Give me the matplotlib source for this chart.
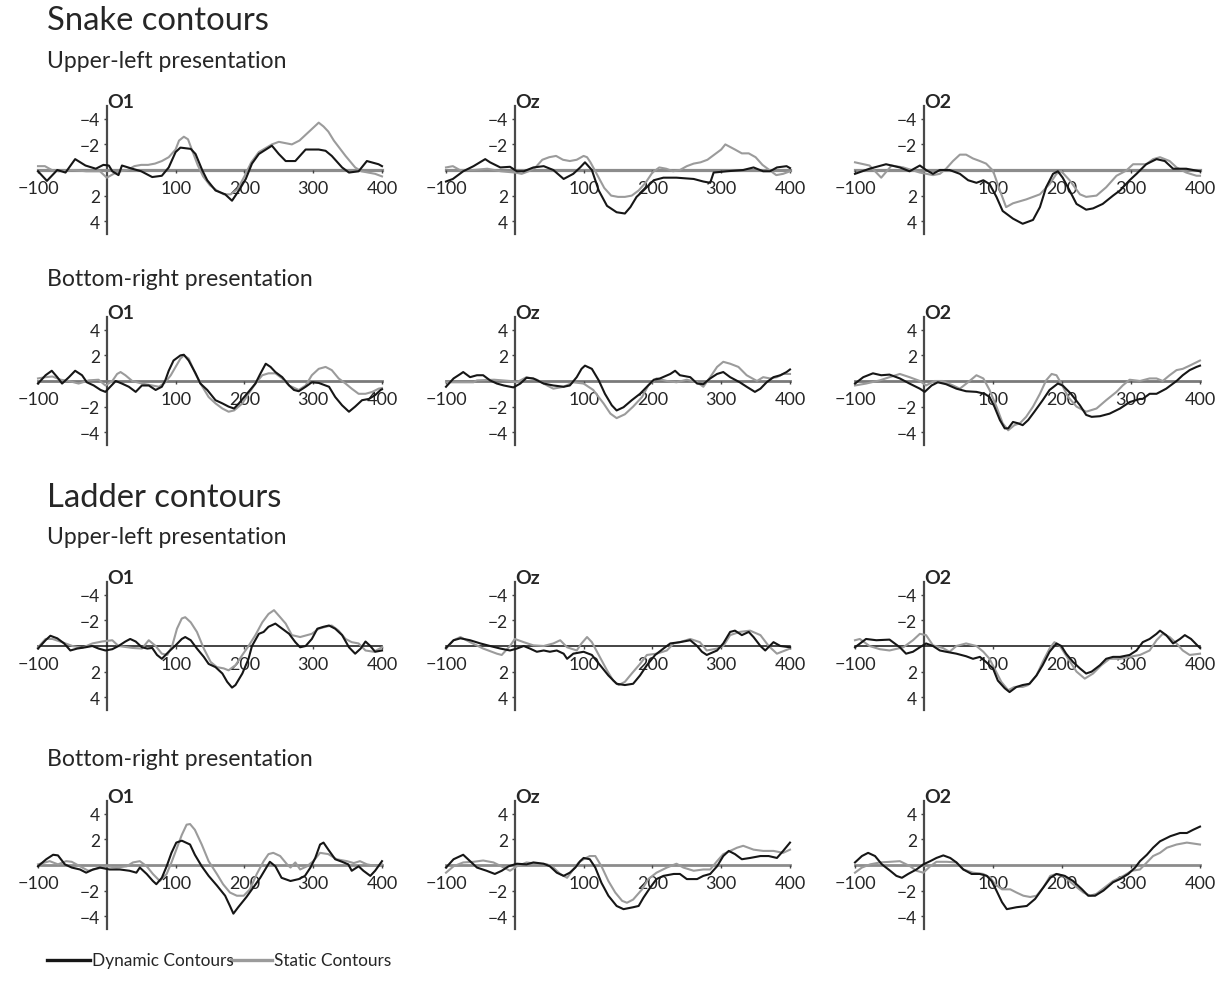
import matplotlib
matplotlib.use("Agg")
import matplotlib.pyplot as plt
from matplotlib.lines import Line2D

plt.rcParams["font.family"] = ["Lato", "DejaVu Sans"]

# ---------------------------------------------------------------------------
# Grand-average ERP waveforms (µV) at occipital electrodes, -100..400 ms.
# Each series is a list of (time in ms, amplitude in µV).
# ---------------------------------------------------------------------------
electrodes = ["O1", "Oz", "O2"]
section_titles = ["Snake contours", "Ladder contours"]
row_titles = ["Upper-left presentation", "Bottom-right presentation",
              "Upper-left presentation", "Bottom-right presentation"]
legend_labels = ["Dynamic Contours", "Static Contours"]
x_ticks = [-100, 100, 200, 300, 400]
y_ticks = [-4, -2, 2, 4]

# Snake contours, upper-left presentation
snake_ul_o1_dyn = [(-100,0.1),(-87,0.85),(-72,0.0),(-60,0.2),(-46,-0.85),(-31,-0.35),(-16,-0.1),(-5,-0.4),(3,-0.35),(8,0.1),(17,0.4),(22,-0.35),(37,-0.1),(50,0.1),(66,0.55),(80,0.45),(90,-0.2),(100,-1.4),(107,-1.75),(122,-1.65),(129,-1.25),(139,0.05),(146,0.8),(158,1.6),(172,1.9),(182,2.4),(192,1.6),(202,0.7),(211,-0.5),(221,-1.25),(240,-1.9),(250,-1.25),(260,-0.7),(274,-0.7),(289,-1.6),(308,-1.6),(318,-1.5),(327,-1.1),(342,-0.2),(352,0.2),(366,0.1),(378,-0.7),(395,-0.45),(400,-0.3)]
snake_ul_o1_sta = [(-100,-0.3),(-90,-0.3),(-80,0.0),(-70,0.1),(-50,0.0),(-30,0.1),(-10,0.1),(0,0.6),(10,0.3),(20,0.1),(30,0.0),(40,-0.3),(50,-0.4),(60,-0.4),(70,-0.5),(80,-0.7),(90,-1.0),(100,-1.6),(105,-2.3),(112,-2.6),(118,-2.4),(125,-1.4),(132,-0.4),(140,0.5),(150,1.2),(160,1.6),(170,1.9),(180,1.9),(190,1.5),(200,0.5),(210,-0.6),(221,-1.4),(240,-2.0),(250,-2.2),(269,-2.0),(280,-2.3),(290,-2.8),(300,-3.3),(308,-3.7),(315,-3.4),(322,-3.0),(330,-2.3),(347,-1.1),(361,-0.2),(370,0.1),(380,0.2),(390,0.3),(400,0.5)]
snake_ul_oz_dyn = [(-100,0.9),(-90,0.7),(-75,0.1),(-60,-0.3),(-43,-0.85),(-36,-0.6),(-21,-0.2),(-7,-0.25),(3,0.1),(13,0.1),(27,-0.2),(42,-0.3),(56,0.0),(71,0.7),(85,0.3),(95,-0.2),(102,-0.6),(112,0.0),(122,1.6),(134,2.8),(148,3.3),(160,3.4),(168,2.9),(177,2.1),(187,1.6),(202,0.8),(216,0.6),(235,0.6),(260,0.7),(274,0.9),(284,1.0),(289,0.2),(308,0.1),(332,0.0),(347,-0.2),(361,0.1),(371,0.1),(381,-0.2),(395,-0.3),(400,-0.15)]
snake_ul_oz_sta = [(-100,-0.2),(-90,-0.3),(-80,0.0),(-60,0.0),(-40,-0.1),(-20,0.1),(0,0.2),(10,0.3),(20,0.1),(30,-0.2),(40,-0.8),(50,-1.0),(60,-1.1),(70,-0.8),(80,-0.7),(90,-0.8),(100,-1.1),(105,-1.0),(110,-0.6),(120,0.4),(130,1.4),(140,2.0),(150,2.1),(160,2.1),(170,2.0),(180,1.6),(190,1.0),(200,0.2),(210,-0.2),(220,-0.1),(230,0.1),(240,0.0),(250,-0.3),(260,-0.5),(270,-0.6),(280,-0.8),(290,-1.2),(300,-1.6),(306,-2.0),(320,-1.6),(330,-1.3),(340,-1.3),(350,-1.0),(360,-0.4),(370,0.0),(380,0.4),(390,0.3),(400,0.1)]
snake_ul_o2_dyn = [(-100,0.3),(-79,-0.1),(-55,-0.45),(-35,-0.2),(-21,0.1),(-6,-0.35),(3,0.0),(13,0.3),(23,0.0),(37,0.0),(52,0.3),(64,0.8),(76,1.0),(86,0.8),(95,1.1),(105,2.1),(114,3.2),(129,3.8),(143,4.2),(158,3.9),(168,2.9),(177,1.35),(187,0.3),(194,0.1),(201,0.6),(211,1.6),(221,2.65),(235,3.1),(245,3.0),(259,2.65),(274,2.0),(284,1.6),(298,0.8),(308,0.3),(322,-0.45),(337,-0.85),(349,-0.7),(361,-0.1),(380,-0.1),(400,0.1)]
snake_ul_o2_sta = [(-100,-0.6),(-79,-0.35),(-62,0.6),(-47,-0.35),(-30,-0.2),(-6,0.2),(13,0.4),(23,0.3),(32,-0.1),(42,-0.7),(52,-1.2),(61,-1.2),(71,-0.9),(81,-0.7),(90,-0.5),(100,0.05),(110,1.6),(119,2.9),(129,2.6),(148,2.3),(168,1.9),(182,1.1),(192,0.3),(199,0.1),(211,0.8),(226,1.9),(235,2.1),(250,2.0),(264,1.35),(279,0.45),(293,0.05),(303,-0.45),(322,-0.45),(332,-0.85),(342,-1.0),(356,-0.7),(366,-0.2),(380,0.2),(395,0.45),(400,0.45)]

# Snake contours, bottom-right presentation
snake_br_o1_dyn = [(-100,-0.2),(-89,0.45),(-80,0.8),(-72,0.3),(-65,-0.2),(-55,0.3),(-46,0.8),(-36,0.45),(-29,-0.1),(-19,-0.35),(-9,-0.7),(-2,-0.85),(5,-0.45),(13,0.0),(22,-0.2),(32,-0.45),(42,-0.85),(51,-0.35),(61,-0.35),(71,-0.7),(80,-0.45),(85,0.05),(90,0.8),(97,1.6),(107,2.0),(112,2.05),(119,1.6),(129,0.6),(136,-0.2),(146,-0.7),(158,-1.5),(168,-1.75),(177,-2.0),(185,-2.15),(192,-1.75),(206,-0.85),(216,-0.2),(223,0.55),(231,1.35),(238,1.1),(245,0.7),(255,0.3),(265,-0.35),(272,-0.7),(279,-0.8),(289,-0.45),(298,-0.1),(308,-0.15),(323,-0.45),(332,-1.25),(342,-1.9),(352,-2.4),(361,-2.0),(371,-1.5),(381,-1.4),(390,-1.1),(398,-0.7),(400,-0.65)]
snake_br_o1_sta = [(-100,0.2),(-89,0.3),(-79,0.35),(-67,0.1),(-55,0.0),(-41,-0.2),(-26,0.05),(-12,0.1),(-2,-0.35),(8,0.0),(15,0.55),(20,0.7),(27,0.45),(37,0.0),(51,-0.2),(66,-0.35),(76,-0.45),(85,-0.1),(93,0.45),(100,1.1),(107,1.75),(112,2.0),(119,1.75),(129,0.55),(139,-0.45),(148,-1.25),(158,-1.75),(168,-2.15),(177,-2.4),(185,-2.3),(197,-1.75),(206,-1.0),(216,-0.2),(226,0.45),(235,0.6),(245,0.6),(255,0.2),(265,-0.35),(279,-0.7),(289,-0.35),(298,0.45),(308,0.95),(318,1.1),(327,0.85),(337,0.2),(347,-0.2),(356,-0.6),(366,-1.0),(376,-1.0),(386,-0.85),(395,-0.6),(400,-0.55)]
snake_br_oz_dyn = [(-100,-0.45),(-89,0.2),(-79,0.55),(-75,0.7),(-65,0.3),(-55,0.45),(-46,0.45),(-36,0.05),(-26,-0.2),(-16,-0.35),(-2,-0.5),(8,-0.2),(17,0.25),(27,0.2),(42,-0.2),(56,-0.35),(71,-0.45),(80,-0.35),(90,0.3),(97,0.95),(102,1.2),(112,0.95),(122,0.05),(131,-1.0),(141,-1.9),(148,-2.3),(158,-2.05),(170,-1.5),(182,-1.0),(192,-0.45),(202,0.1),(211,0.2),(226,0.55),(233,0.8),(240,0.45),(255,0.3),(265,-0.2),(274,-0.25),(284,0.2),(294,0.55),(303,0.7),(313,0.3),(327,-0.1),(337,-0.45),(349,-0.85),(357,-0.6),(366,-0.1),(376,0.3),(386,0.45),(395,0.7),(400,0.9)]
snake_br_oz_sta = [(-100,-0.1),(-80,-0.1),(-60,-0.1),(-55,0.05),(-30,0.1),(-7,0.0),(3,-0.1),(17,0.3),(32,0.1),(47,-0.35),(56,-0.6),(71,-0.45),(85,-0.1),(100,-0.2),(114,-0.7),(129,-1.75),(139,-2.55),(148,-2.9),(160,-2.6),(172,-2.0),(185,-1.25),(194,-0.35),(206,0.2),(221,0.0),(235,-0.1),(250,0.1),(265,-0.1),(274,-0.45),(284,0.3),(294,1.1),(303,1.5),(313,1.35),(325,1.1),(337,0.45),(352,0.0),(361,0.3),(371,0.2),(381,0.3),(390,0.55),(400,0.55)]
snake_br_o2_dyn = [(-100,-0.2),(-88,0.3),(-74,0.6),(-62,0.45),(-50,0.5),(-35,0.2),(-21,-0.2),(-6,-0.6),(1,-0.85),(11,-0.35),(20,-0.1),(32,-0.25),(47,-0.6),(61,-0.8),(76,-0.85),(88,-1.0),(95,-1.25),(102,-2.0),(110,-3.05),(117,-3.7),(122,-3.7),(129,-3.2),(136,-3.3),(143,-3.45),(151,-3.05),(160,-2.4),(172,-1.5),(182,-0.7),(194,-0.2),(201,-0.35),(213,-1.0),(226,-1.9),(235,-2.65),(243,-2.8),(255,-2.75),(269,-2.55),(284,-2.15),(298,-1.65),(313,-1.4),(317,-1.4),(327,-1.0),(337,-1.0),(351,-0.6),(366,0.0),(375,0.45),(385,0.85),(395,1.1),(400,1.2)]
snake_br_o2_sta = [(-100,-0.35),(-84,-0.2),(-64,0.05),(-50,0.3),(-35,0.55),(-21,0.3),(-6,0.0),(3,-0.35),(15,0.0),(27,0.0),(42,-0.35),(52,-0.6),(66,0.0),(76,0.45),(86,0.2),(95,-0.7),(105,-2.0),(114,-3.3),(122,-3.85),(131,-3.45),(139,-3.3),(148,-2.8),(158,-2.0),(168,-1.0),(177,0.05),(185,0.55),(192,0.45),(199,-0.2),(209,-1.25),(221,-2.0),(235,-2.4),(250,-2.15),(264,-1.5),(279,-0.85),(288,-0.35),(298,0.1),(313,0.0),(327,0.2),(337,0.2),(346,0.0),(356,0.45),(366,0.85),(375,0.95),(385,1.2),(400,1.6)]

# Ladder contours, upper-left presentation
ladder_ul_o1_dyn = [(-100,0.2),(-89,-0.45),(-82,-0.8),(-72,-0.6),(-62,-0.2),(-53,0.35),(-43,0.2),(-31,0.1),(-21,0.0),(-12,0.2),(-2,0.35),(8,0.25),(17,0.0),(27,-0.35),(34,-0.55),(42,-0.35),(51,0.1),(59,0.2),(66,0.15),(73,0.7),(80,1.0),(90,0.45),(100,-0.05),(109,-0.55),(114,-0.7),(122,-0.45),(131,0.2),(141,0.85),(148,1.4),(158,1.65),(168,2.15),(175,2.8),(182,3.25),(187,3.05),(197,2.15),(206,1.0),(211,0.0),(221,-0.95),(228,-1.1),(235,-1.5),(245,-1.75),(255,-1.35),(265,-0.95),(274,-0.3),(281,0.1),(289,0.0),(298,-0.55),(306,-1.35),(315,-1.5),(323,-1.6),(332,-1.35),(342,-0.85),(352,0.1),(361,0.6),(369,0.2),(376,-0.35),(383,0.0),(390,0.45),(400,0.35)]
ladder_ul_o1_sta = [(-100,0.1),(-89,-0.55),(-79,-0.55),(-65,-0.3),(-50,0.0),(-36,0.15),(-21,-0.2),(-7,-0.35),(8,-0.45),(17,0.0),(37,0.15),(51,0.2),(61,-0.45),(71,0.0),(80,0.6),(88,0.7),(95,0.0),(102,-1.35),(109,-2.15),(114,-2.25),(122,-1.85),(131,-1.1),(141,0.2),(151,1.25),(160,1.65),(170,1.75),(177,1.9),(187,1.5),(197,0.7),(206,0.0),(216,-0.85),(226,-1.85),(235,-2.5),(243,-2.8),(252,-2.25),(260,-1.75),(269,-0.85),(281,-0.7),(298,-0.95),(308,-1.35),(318,-1.5),(327,-1.6),(337,-1.2),(347,-0.55),(356,-0.3),(366,-0.2),(376,0.35),(388,0.45),(400,0.1)]
ladder_ul_oz_dyn = [(-100,0.15),(-89,-0.45),(-79,-0.6),(-65,-0.45),(-50,-0.2),(-36,0.0),(-21,0.2),(-7,0.35),(3,0.2),(13,0.0),(22,0.2),(32,0.45),(42,0.35),(51,0.45),(61,0.35),(71,0.6),(76,1.0),(85,0.6),(100,0.45),(112,0.7),(124,1.5),(136,2.3),(148,2.95),(160,3.05),(172,2.95),(182,2.3),(192,1.5),(204,0.7),(216,0.2),(226,-0.2),(240,-0.3),(255,-0.45),(265,0.0),(272,0.45),(279,0.7),(294,0.35),(303,-0.2),(313,-1.1),(320,-1.2),(330,-0.85),(340,-1.1),(347,-0.7),(357,0.0),(364,0.35),(376,-0.3),(386,0.0),(400,0.1)]
ladder_ul_oz_sta = [(-100,0.2),(-89,-0.45),(-79,-0.7),(-65,-0.3),(-46,0.2),(-26,0.6),(-19,0.7),(-7,0.0),(0,-0.55),(13,-0.3),(27,-0.05),(42,0.0),(56,-0.2),(66,-0.45),(76,0.1),(90,0.35),(97,-0.2),(105,-0.7),(112,-0.3),(122,0.7),(134,1.9),(143,2.7),(151,3.05),(160,2.8),(170,2.15),(182,1.4),(192,0.7),(206,0.6),(221,0.35),(231,-0.2),(240,-0.3),(255,-0.55),(269,-0.3),(279,0.35),(294,0.2),(303,0.0),(313,-0.85),(327,-1.1),(342,-1.2),(357,-0.85),(369,0.0),(381,0.6),(400,0.2)]
ladder_ul_o2_dyn = [(-100,0.1),(-84,-0.55),(-69,-0.45),(-50,-0.5),(-35,0.1),(-26,0.6),(-16,0.45),(-6,0.1),(3,-0.2),(13,0.0),(23,0.35),(32,0.45),(47,0.6),(61,0.8),(71,1.0),(81,0.85),(90,1.25),(100,1.75),(107,2.7),(117,3.3),(124,3.6),(134,3.2),(143,3.05),(153,2.95),(163,2.3),(172,1.5),(182,0.45),(192,-0.2),(199,0.0),(206,0.6),(216,1.25),(226,1.75),(235,2.15),(243,2.0),(255,1.5),(264,1.0),(274,0.85),(284,0.85),(298,0.7),(308,0.35),(317,-0.3),(327,-0.55),(337,-0.95),(342,-1.2),(351,-0.85),(361,-0.2),(371,-0.55),(378,-0.85),(387,-0.55),(397,0.0),(400,0.15)]
ladder_ul_o2_sta = [(-100,-0.45),(-93,-0.55),(-79,0.0),(-64,0.25),(-50,0.35),(-30,0.1),(-16,-0.45),(-6,-0.95),(3,-0.85),(13,-0.05),(27,0.15),(37,0.45),(47,0.0),(61,-0.2),(76,0.0),(86,0.45),(95,1.0),(102,1.75),(112,2.8),(122,3.45),(131,3.2),(143,3.2),(151,3.05),(163,2.3),(172,1.25),(182,0.2),(189,-0.3),(197,0.0),(209,1.0),(221,2.0),(233,2.55),(245,2.15),(257,1.5),(269,1.0),(284,1.0),(298,0.85),(313,0.7),(327,0.35),(337,-0.45),(346,-0.95),(356,-0.7),(366,-0.2),(375,0.35),(385,0.7),(400,0.6)]

# Ladder contours, bottom-right presentation
ladder_br_o1_dyn = [(-100,-0.1),(-88,0.45),(-78,0.8),(-71,0.75),(-61,0.05),(-51,-0.2),(-39,-0.35),(-30,-0.6),(-20,-0.35),(-10,-0.2),(4,-0.35),(19,-0.35),(33,-0.45),(43,-0.6),(48,-0.2),(58,-0.7),(67,-1.25),(72,-1.5),(80,-1.0),(87,-0.1),(94,0.95),(101,1.75),(109,1.9),(121,1.6),(128,0.8),(138,-0.1),(148,-0.85),(160,-1.6),(172,-2.4),(179,-3.2),(184,-3.8),(191,-3.3),(203,-2.5),(213,-1.75),(223,-1.0),(233,-0.1),(237,0.25),(245,-0.1),(254,-1.0),(267,-1.25),(279,-1.1),(288,-0.85),(296,-0.2),(303,0.55),(310,1.6),(315,1.75),(322,1.2),(332,0.45),(342,0.25),(351,0.05),(356,-0.45),(366,-0.1),(373,-0.45),(383,-0.85),(390,-0.45),(400,0.3)]
ladder_br_o1_sta = [(-100,0.05),(-83,0.3),(-71,0.05),(-59,0.3),(-51,0.25),(-39,-0.1),(-27,-0.45),(-15,-0.3),(0,-0.1),(14,-0.2),(29,-0.1),(38,0.2),(48,0.3),(58,-0.1),(67,-0.7),(77,-1.25),(87,-0.7),(94,0.2),(101,1.2),(109,2.35),(116,3.15),(121,3.2),(128,2.75),(138,1.6),(148,0.3),(160,-0.7),(169,-1.5),(179,-2.15),(189,-2.4),(199,-2.4),(208,-1.9),(218,-0.7),(228,0.3),(235,0.85),(242,0.95),(252,0.7),(262,0.05),(267,-0.2),(274,0.2),(281,-0.35),(291,-0.1),(300,0.3),(310,0.95),(322,0.85),(334,0.45),(349,0.3),(359,0.15),(368,0.3),(378,0.05),(393,-0.1),(400,0.05)]
ladder_br_oz_dyn = [(-100,-0.2),(-89,0.45),(-79,0.7),(-75,0.8),(-65,0.3),(-55,-0.2),(-41,-0.45),(-29,-0.7),(-19,-0.45),(-9,-0.1),(3,0.1),(17,0.05),(27,0.2),(42,0.1),(51,-0.1),(61,-0.6),(71,-0.85),(80,-0.6),(88,-0.2),(95,0.3),(100,0.55),(109,0.45),(117,-0.2),(126,-1.4),(136,-2.4),(148,-3.2),(158,-3.45),(172,-3.3),(180,-3.2),(187,-2.55),(197,-1.75),(206,-1.1),(216,-0.85),(231,-0.7),(240,-0.7),(250,-1.1),(265,-1.1),(274,-0.85),(284,-0.7),(294,-0.1),(303,0.7),(311,1.1),(320,0.85),(330,0.45),(342,0.55),(357,0.7),(369,0.7),(381,0.55),(390,1.1),(400,1.75)]
ladder_br_oz_sta = [(-100,-0.6),(-89,-0.1),(-75,0.2),(-60,0.25),(-46,0.35),(-31,0.2),(-16,-0.2),(-7,-0.45),(3,-0.1),(17,0.2),(32,0.1),(47,0.05),(56,-0.2),(66,-0.7),(76,-1.0),(85,-0.35),(93,0.2),(100,0.45),(109,0.7),(117,0.7),(126,-0.1),(136,-1.25),(146,-2.15),(156,-2.8),(163,-2.95),(172,-2.7),(185,-1.9),(194,-1.1),(206,-0.6),(221,-0.2),(235,0.1),(245,-0.2),(260,-0.45),(274,-0.35),(284,-0.35),(294,0.3),(303,0.85),(313,1.1),(323,1.35),(332,1.5),(347,1.2),(361,1.1),(376,1.1),(390,0.95),(400,1.2)]
ladder_br_o2_dyn = [(-100,0.2),(-90,0.7),(-81,0.95),(-71,0.7),(-61,0.05),(-49,-0.45),(-40,-0.85),(-32,-1.0),(-23,-0.7),(-11,-0.35),(-1,0.05),(9,0.3),(18,0.55),(28,0.75),(38,0.55),(47,0.2),(57,-0.35),(69,-0.7),(81,-0.7),(91,-0.85),(98,-1.25),(105,-2.0),(113,-2.9),(120,-3.45),(134,-3.3),(149,-3.2),(161,-2.65),(173,-1.75),(183,-1.0),(192,-0.7),(204,-0.85),(216,-1.25),(229,-1.9),(238,-2.4),(248,-2.4),(260,-2.0),(274,-1.35),(284,-1.1),(296,-0.7),(306,-0.2),(313,0.3),(323,0.8),(332,1.35),(342,1.85),(357,2.25),(371,2.5),(381,2.5),(390,2.75),(400,3.0)]
ladder_br_o2_sta = [(-100,-0.6),(-90,-0.2),(-78,0.05),(-64,0.2),(-49,0.25),(-35,0.3),(-20,-0.1),(-11,-0.45),(-1,-0.6),(9,-0.1),(18,0.25),(33,0.25),(47,0.2),(57,-0.35),(71,-0.6),(86,-0.7),(96,-1.0),(103,-1.5),(113,-1.9),(125,-1.9),(134,-2.15),(144,-2.4),(154,-2.5),(163,-2.4),(173,-1.75),(183,-0.85),(192,-0.7),(202,-0.85),(216,-1.5),(231,-2.15),(241,-2.4),(250,-2.25),(262,-1.75),(274,-1.25),(289,-0.85),(301,-0.45),(313,-0.35),(323,0.2),(332,0.7),(342,0.95),(352,1.35),(366,1.6),(381,1.75),(400,1.6)]

rows = [
    [(snake_ul_o1_dyn, snake_ul_o1_sta), (snake_ul_oz_dyn, snake_ul_oz_sta), (snake_ul_o2_dyn, snake_ul_o2_sta)],
    [(snake_br_o1_dyn, snake_br_o1_sta), (snake_br_oz_dyn, snake_br_oz_sta), (snake_br_o2_dyn, snake_br_o2_sta)],
    [(ladder_ul_o1_dyn, ladder_ul_o1_sta), (ladder_ul_oz_dyn, ladder_ul_oz_sta), (ladder_ul_o2_dyn, ladder_ul_o2_sta)],
    [(ladder_br_o1_dyn, ladder_br_o1_sta), (ladder_br_oz_dyn, ladder_br_oz_sta), (ladder_br_o2_dyn, ladder_br_o2_sta)],
]
# upper-left rows are plotted negative-up
negative_up = [True, False, True, False]

# ---------------------------------------------------------------------------
W, H = 1221, 987
fig = plt.figure(figsize=(W / 100, H / 100), dpi=100)
fig.patch.set_facecolor("white")

DYN_COLOR = "#161616"
STA_COLOR = "#9b9b9b"
TEXT_COLOR = "#262626"

col_px = [(38, 382), (446, 790), (855, 1200)]   # x pixel span of -100..400 ms
row_px = [171, 382, 647, 866]                    # y pixel of the 0 µV line
half_px = 64                                     # pixels for 5 µV
zero_line = [("#8c8c8c", 2.3), ("#7a7a7a", 2.0), ("#111111", 1.1), ("#8c8c8c", 2.0)]


def add_panel(x0, x1, yc):
    return fig.add_axes([x0 / W, 1 - (yc + half_px) / H, (x1 - x0) / W, 2 * half_px / H])


for r, row in enumerate(rows):
    for c, (dyn, sta) in enumerate(row):
        x0, x1 = col_px[c]
        ax = add_panel(x0, x1, row_px[r])
        ax.set_facecolor("none")
        ax.set_xlim(-100, 400)
        if negative_up[r]:
            ax.set_ylim(5, -5)
        else:
            ax.set_ylim(-5, 5)

        for spine in ("top", "right"):
            ax.spines[spine].set_visible(False)
        ax.spines["left"].set_position(("data", 0))
        ax.spines["bottom"].set_position(("data", 0))
        ax.spines["left"].set_color("#4a4a4a")
        ax.spines["left"].set_linewidth(1.6)
        zc, zw = zero_line[r]
        ax.spines["bottom"].set_color(zc)
        ax.spines["bottom"].set_linewidth(zw)
        ax.spines["bottom"].set_zorder(1)
        ax.spines["left"].set_zorder(1)

        ax.set_xticks(x_ticks)
        ax.set_xticklabels([str(v).replace("-", "\u2212") for v in x_ticks])
        ax.set_yticks(y_ticks)
        ax.set_yticklabels([str(v).replace("-", "\u2212") for v in y_ticks])
        ax.tick_params(axis="x", direction="out", length=2.5, width=1.0,
                       color="#444444", pad=4.5, labelsize=13, labelcolor=TEXT_COLOR)
        ax.tick_params(axis="y", direction="out", length=2.5, width=1.0,
                       color="#444444", pad=2.5, labelsize=12.5, labelcolor=TEXT_COLOR)
        for lab in ax.get_xticklabels() + ax.get_yticklabels():
            lab.set_zorder(0)

        ax.plot([p[0] for p in sta], [p[1] for p in sta], color=STA_COLOR,
                lw=1.5, zorder=3, solid_joinstyle="round", clip_on=False)
        ax.plot([p[0] for p in dyn], [p[1] for p in dyn], color=DYN_COLOR,
                lw=1.5, zorder=4, solid_joinstyle="round", clip_on=False)

        ax.annotate(electrodes[c], xy=(0, 1), xycoords=("data", "axes fraction"),
                    xytext=(0.5, 3), textcoords="offset points", ha="left",
                    va="center", fontsize=14, fontweight="bold", color=TEXT_COLOR)

# Section and row headings
fig.text(47 / W, 1 - 21 / H, section_titles[0], fontsize=23.6, color=TEXT_COLOR, va="center")
fig.text(47 / W, 1 - 498 / H, section_titles[1], fontsize=23.6, color=TEXT_COLOR, va="center")
for ypx, title in zip([61, 279, 537, 760], row_titles):
    fig.text(47 / W, 1 - ypx / H, title, fontsize=16.6, color=TEXT_COLOR, va="center")

# Legend
leg_y = 1 - 961 / H
fig.add_artist(Line2D([47 / W, 90 / W], [leg_y, leg_y], color=DYN_COLOR, lw=2.4))
fig.text(92 / W, leg_y, legend_labels[0], fontsize=12.4, color=TEXT_COLOR, va="center")
fig.add_artist(Line2D([231 / W, 272 / W], [leg_y, leg_y], color=STA_COLOR, lw=2.4))
fig.text(274 / W, leg_y, legend_labels[1], fontsize=12.4, color=TEXT_COLOR, va="center")

fig.savefig("out.png", dpi=100, facecolor="white")
